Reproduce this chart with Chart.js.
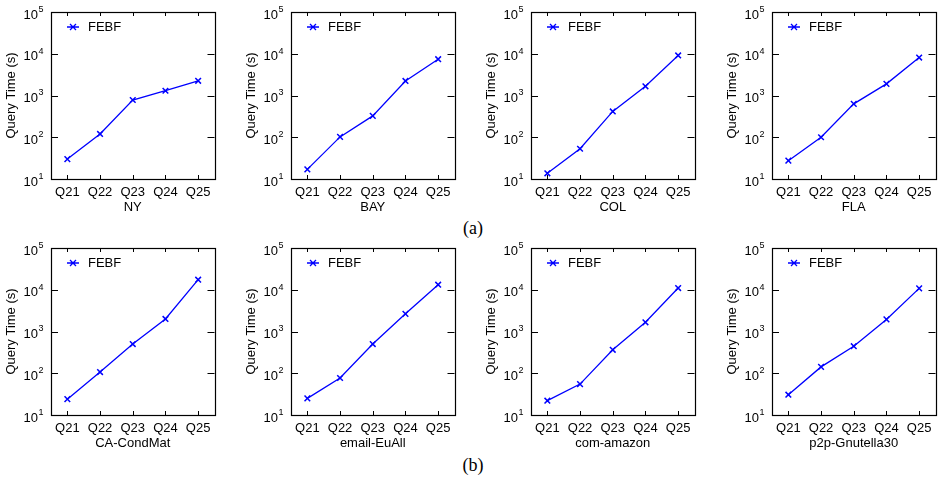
<!DOCTYPE html>
<html>
<head>
<meta charset="utf-8">
<script src="https://cdn.jsdelivr.net/npm/chart.js@4/dist/chart.umd.min.js"></script>
<style>
  html, body { margin:0; padding:0; background:#fff; width:939px; height:481px; overflow:hidden; position:relative; }
  .cv { position:absolute; }
  .lab { position:absolute; font-family:"Liberation Serif", "Times New Roman", serif; font-size:18px; color:#000; transform:translate(-50%,-50%); white-space:nowrap; }
</style>
</head>
<body>
<div class="lab" style="left:473px; top:228px;">(a)</div>
<div class="lab" style="left:473px; top:465px;">(b)</div>
<script>
// ---- data ----
const categories = ['Q21', 'Q22', 'Q23', 'Q24', 'Q25'];
const seriesName = 'FEBF';
const yTitle = 'Query Time (s)';
const yTickValues = [10, 100, 1000, 10000, 100000];
const yTickExponents = ['1', '2', '3', '4', '5'];
const panelNames = ['NY', 'BAY', 'COL', 'FLA', 'CA-CondMat', 'email-EuAll', 'com-amazon', 'p2p-Gnutella30'];
const nyValues = [30, 120, 780, 1300, 2250];
const bayValues = [17, 102, 325, 2230, 7400];
const colValues = [13.7, 53, 415, 1660, 9100];
const flaValues = [27.5, 100, 630, 1900, 8100];
const caCondMatValues = [24, 107, 500, 2000, 17400];
const emailEuAllValues = [25, 77, 500, 2650, 13200];
const comAmazonValues = [22, 55, 365, 1660, 11000];
const p2pGnutellaValues = [30.6, 142, 445, 1950, 10800];
const panelValues = [nyValues, bayValues, colValues, flaValues, caCondMatValues, emailEuAllValues, comAmazonValues, p2pGnutellaValues];

// ---- layout ----
const plotLefts = [51, 291, 531, 772];
const plotTops = [12, 248];
const plotW = 167, plotH = 167;
const yAxisW = 51, xAxisH = 40, padTop = 12, padRight = 2;
const FONT = '"Liberation Sans", Arial, Helvetica, sans-serif';
const BLUE = '#0000ff';

const framePlugin = {
  id: 'frame',
  afterDraw(chart) {
    const ctx = chart.ctx;
    const a = chart.chartArea;
    const xs = chart.scales.x, ys = chart.scales.y;
    ctx.save();
    ctx.strokeStyle = '#000';
    ctx.lineWidth = 1;
    // inner ticks
    ctx.beginPath();
    yTickValues.forEach(v => {
      const py = Math.round(ys.getPixelForValue(v)) + 0.5;
      if (Math.abs(py - a.top) < 1 || Math.abs(py - a.bottom) < 1) return;
      ctx.moveTo(a.left, py); ctx.lineTo(a.left + 7, py);
      ctx.moveTo(a.right, py); ctx.lineTo(a.right - 7, py);
    });
    categories.forEach((c, i) => {
      const px = Math.round(xs.getPixelForValue(i)) + 0.5;
      ctx.moveTo(px, a.bottom); ctx.lineTo(px, a.bottom - 4);
      ctx.moveTo(px, a.top); ctx.lineTo(px, a.top + 4);
    });
    ctx.stroke();
    // frame box
    ctx.lineWidth = 1.2;
    ctx.strokeRect(Math.round(a.left) + 0.5, Math.round(a.top) + 0.5, Math.round(a.right - a.left), Math.round(a.bottom - a.top));
    // y tick labels with superscripts
    ctx.fillStyle = '#000';
    yTickValues.forEach((v, i) => {
      const py = ys.getPixelForValue(v);
      ctx.font = '13px ' + FONT;
      ctx.textAlign = 'right';
      ctx.textBaseline = 'middle';
      ctx.fillText('10', a.left - 13, py + 3);
      ctx.font = '9px ' + FONT;
      ctx.textAlign = 'left';
      ctx.fillText(yTickExponents[i], a.left - 12.5, py - 2.5);
    });
    // legend
    const ly = a.top + 15;
    ctx.strokeStyle = BLUE;
    ctx.lineWidth = 1.3;
    ctx.beginPath();
    ctx.moveTo(a.left + 16, ly); ctx.lineTo(a.left + 28, ly);
    ctx.moveTo(a.left + 19, ly - 3); ctx.lineTo(a.left + 25, ly + 3);
    ctx.moveTo(a.left + 19, ly + 3); ctx.lineTo(a.left + 25, ly - 3);
    ctx.stroke();
    ctx.fillStyle = '#000';
    ctx.font = '13px ' + FONT;
    ctx.textAlign = 'left';
    ctx.textBaseline = 'middle';
    ctx.fillText(seriesName, a.left + 37, ly);
    ctx.restore();
  }
};

panelNames.forEach((name, idx) => {
  const col = idx % 4, row = Math.floor(idx / 4);
  const cv = document.createElement('canvas');
  cv.className = 'cv';
  const w = yAxisW + plotW + padRight, h = padTop + plotH + xAxisH;
  cv.style.left = (plotLefts[col] - yAxisW) + 'px';
  cv.style.top = (plotTops[row] - padTop) + 'px';
  cv.style.width = w + 'px';
  cv.style.height = h + 'px';
  cv.width = w; cv.height = h;
  document.body.appendChild(cv);
  new Chart(cv, {
    type: 'line',
    data: {
      labels: categories,
      datasets: [{
        label: seriesName,
        data: panelValues[idx],
        borderColor: BLUE,
        backgroundColor: BLUE,
        borderWidth: 1.3,
        pointStyle: 'crossRot',
        pointRadius: 4,
        pointBorderWidth: 1.5,
        pointBorderColor: BLUE,
        tension: 0,
        fill: false
      }]
    },
    options: {
      responsive: false,
      animation: false,
      devicePixelRatio: 1,
      layout: { padding: { top: padTop, right: padRight, left: 0, bottom: 0 } },
      plugins: { legend: { display: false }, tooltip: { enabled: false } },
      scales: {
        x: {
          type: 'category',
          offset: true,
          grid: { display: false, drawTicks: false },
          border: { display: false },
          ticks: { color: '#000', font: { family: FONT, size: 13 }, padding: 5.5, maxRotation: 0, autoSkip: false },
          title: { display: true, text: name, color: '#000', font: { family: FONT, size: 13 }, padding: { top: 0, bottom: 3.5 } },
          afterFit(s) { s.height = xAxisH; }
        },
        y: {
          type: 'logarithmic',
          min: 10,
          max: 100000,
          grid: { display: false, drawTicks: false },
          border: { display: false },
          ticks: { display: false },
          afterBuildTicks(s) { s.ticks = yTickValues.map(v => ({ value: v })); },
          title: { display: true, text: yTitle, color: '#000', font: { family: FONT, size: 13 }, padding: { top: 4, bottom: 0 } },
          afterFit(s) { s.width = yAxisW; }
        }
      }
    },
    plugins: [framePlugin]
  });
});
</script>
</body>
</html>
